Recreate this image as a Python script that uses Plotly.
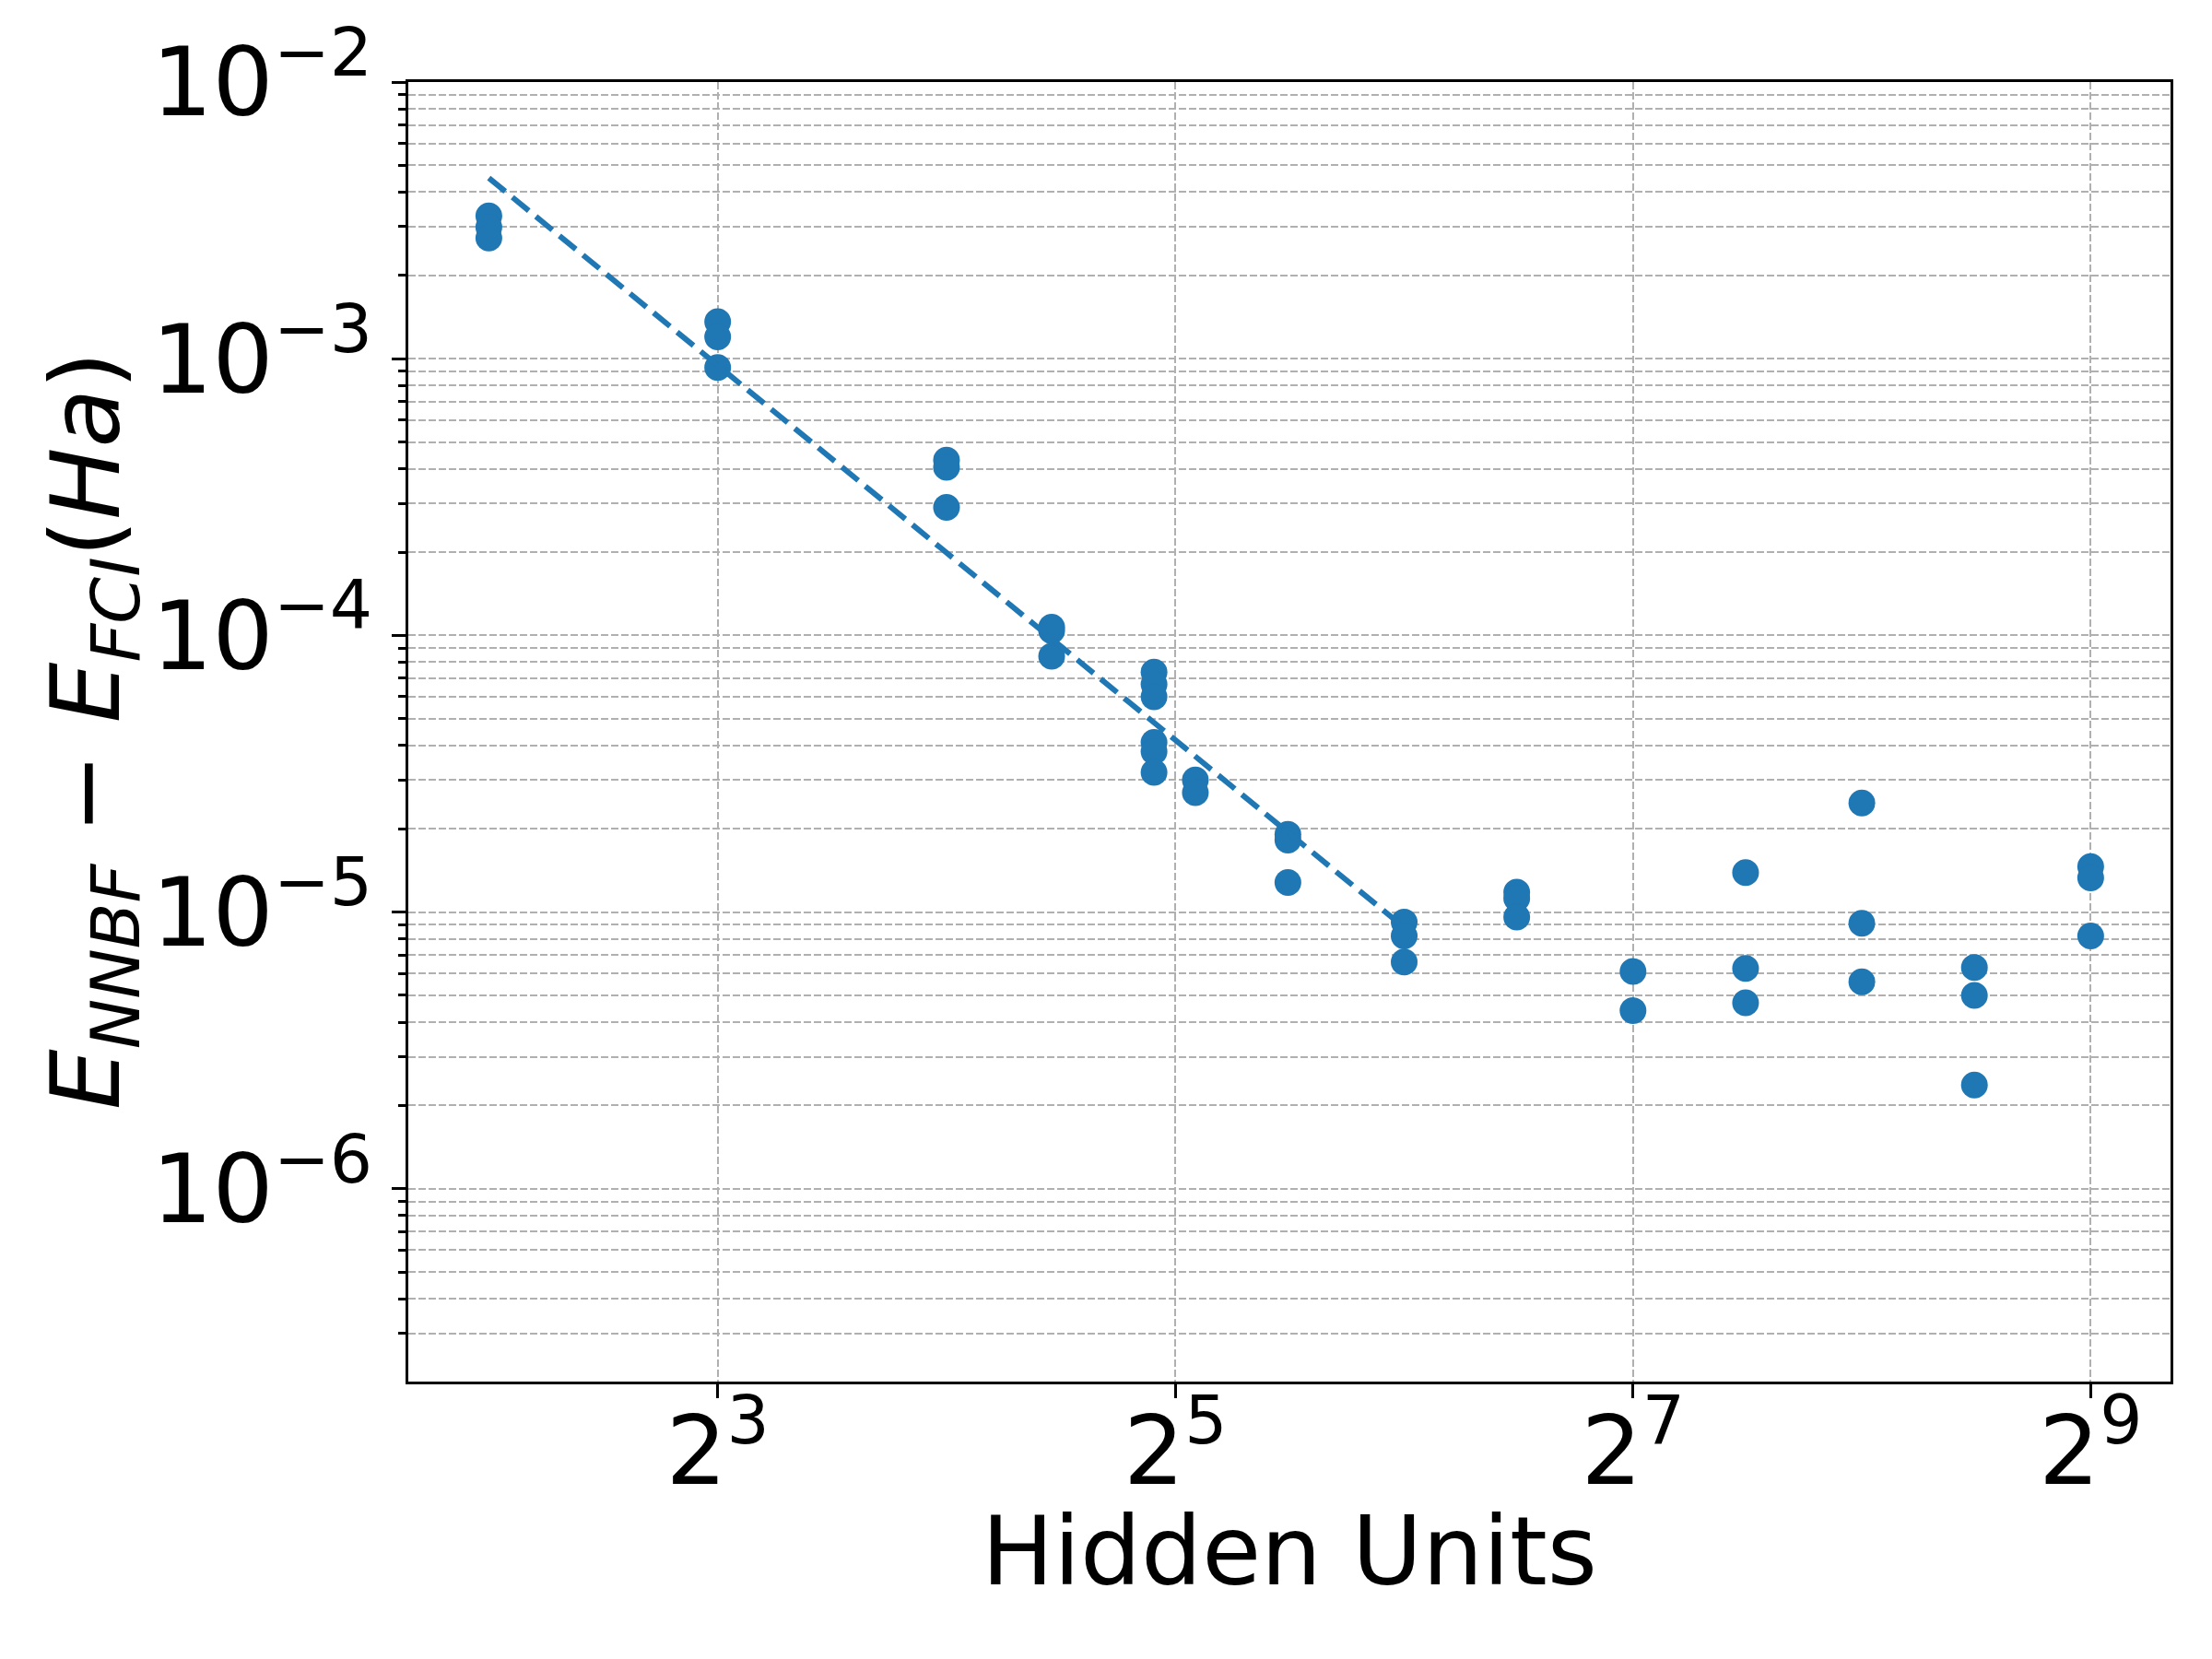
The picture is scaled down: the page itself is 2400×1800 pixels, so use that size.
import plotly.graph_objects as go

# hidden units and energy errors (Ha), read per group
hidden_units = [4, 4, 4,
                8, 8, 8,
                16, 16, 16,
                22, 22, 22,
                30, 30, 30, 30, 30, 30,
                34, 34,
                45, 45, 45,
                64, 64, 64,
                90, 90, 90,
                128, 128,
                180, 180, 180,
                256, 256, 256,
                360, 360, 360,
                512, 512, 512]
energy_err = [3.28e-3, 2.99e-3, 2.73e-3,
              1.36e-3, 1.20e-3, 9.3e-4,
              4.3e-4, 4.05e-4, 2.9e-4,
              1.07e-4, 1.04e-4, 8.4e-5,
              7.36e-5, 6.65e-5, 6.0e-5, 4.1e-5, 3.8e-5, 3.2e-5,
              3.0e-5, 2.7e-5,
              1.91e-5, 1.82e-5, 1.28e-5,
              9.2e-6, 8.2e-6, 6.6e-6,
              1.18e-5, 1.12e-5, 9.6e-6,
              6.1e-6, 4.4e-6,
              1.39e-5, 6.25e-6, 4.7e-6,
              2.48e-5, 9.1e-6, 5.6e-6,
              6.3e-6, 5.0e-6, 2.37e-6,
              1.46e-5, 1.33e-5, 8.2e-6]

# dashed power-law fit, endpoints
fit_x = [4, 64]
fit_y = [4.5e-3, 8.8e-6]

x_tickvals = [8, 32, 128, 512]
x_ticktext = ["2<sup>3</sup>", "2<sup>5</sup>", "2<sup>7</sup>", "2<sup>9</sup>"]
y_tickvals = [1e-2, 1e-3, 1e-4, 1e-5, 1e-6]
y_ticktext = ["10<sup>\u22122</sup>", "10<sup>\u22123</sup>", "10<sup>\u22124</sup>",
              "10<sup>\u22125</sup>", "10<sup>\u22126</sup>"]
y_minor = [k * 10.0 ** e for e in range(-7, -2) for k in range(2, 10)]

blue = "#1f77b4"
grid = "#b0b0b0"
gdash = "7.5px,3.5px"
font = "DejaVu Sans"

fig = go.Figure()
fig.add_trace(go.Scatter(x=hidden_units, y=energy_err, mode="markers",
                         marker=dict(size=29, color=blue, line=dict(width=0))))
fig.add_trace(go.Scatter(x=fit_x, y=fit_y, mode="lines",
                         line=dict(color=blue, width=6, dash="23px,10px")))

# page body has an 8px margin, so margins are offset by it
fig.update_layout(
    width=2400, height=1800,
    margin=dict(l=435, r=53, t=81, b=309),
    paper_bgcolor="white", plot_bgcolor="white",
    showlegend=False,
    font=dict(family=font, size=104, color="black"),
)
fig.update_xaxes(
    type="log", range=[0.4961, 2.8143], automargin=False,
    tickmode="array", tickvals=x_tickvals, ticktext=x_ticktext,
    tickfont=dict(size=104), ticklabelstandoff=-32,
    ticks="outside", ticklen=15, tickwidth=3.3, tickcolor="black",
    showline=True, mirror=True, linecolor="black", linewidth=3.3,
    showgrid=True, gridcolor=grid, gridwidth=2, griddash=gdash,
    zeroline=False,
)
fig.update_yaxes(
    type="log", range=[-6.697, -2], automargin=False,
    tickmode="array", tickvals=y_tickvals, ticktext=y_ticktext,
    tickfont=dict(size=104),
    ticks="outside", ticklen=15, tickwidth=3.3, tickcolor="black",
    showline=True, mirror=True, linecolor="black", linewidth=3.3,
    showgrid=True, gridcolor=grid, gridwidth=2, griddash=gdash,
    minor=dict(tickmode="array", tickvals=y_minor, ticks="outside", ticklen=8.3,
               tickwidth=2.5, tickcolor="black", showgrid=True, gridcolor=grid,
               gridwidth=2, griddash=gdash),
    zeroline=False,
)

# axis titles as annotations for exact placement
fig.add_annotation(text="Hidden Units", xref="paper", yref="paper",
                   x=0.5, y=-0.1305, xanchor="center", yanchor="middle",
                   showarrow=False, font=dict(size=104))
fig.add_annotation(text="<i>E</i><sub><i>NNBF</i></sub> \u2212 <i>E</i><sub><i>FCI</i></sub>(<i>Ha</i>)",
                   xref="paper", yref="paper", x=-0.1794, y=0.5014,
                   xanchor="center", yanchor="middle", textangle=-90,
                   showarrow=False, font=dict(size=104))

fig.write_html("out.html")
